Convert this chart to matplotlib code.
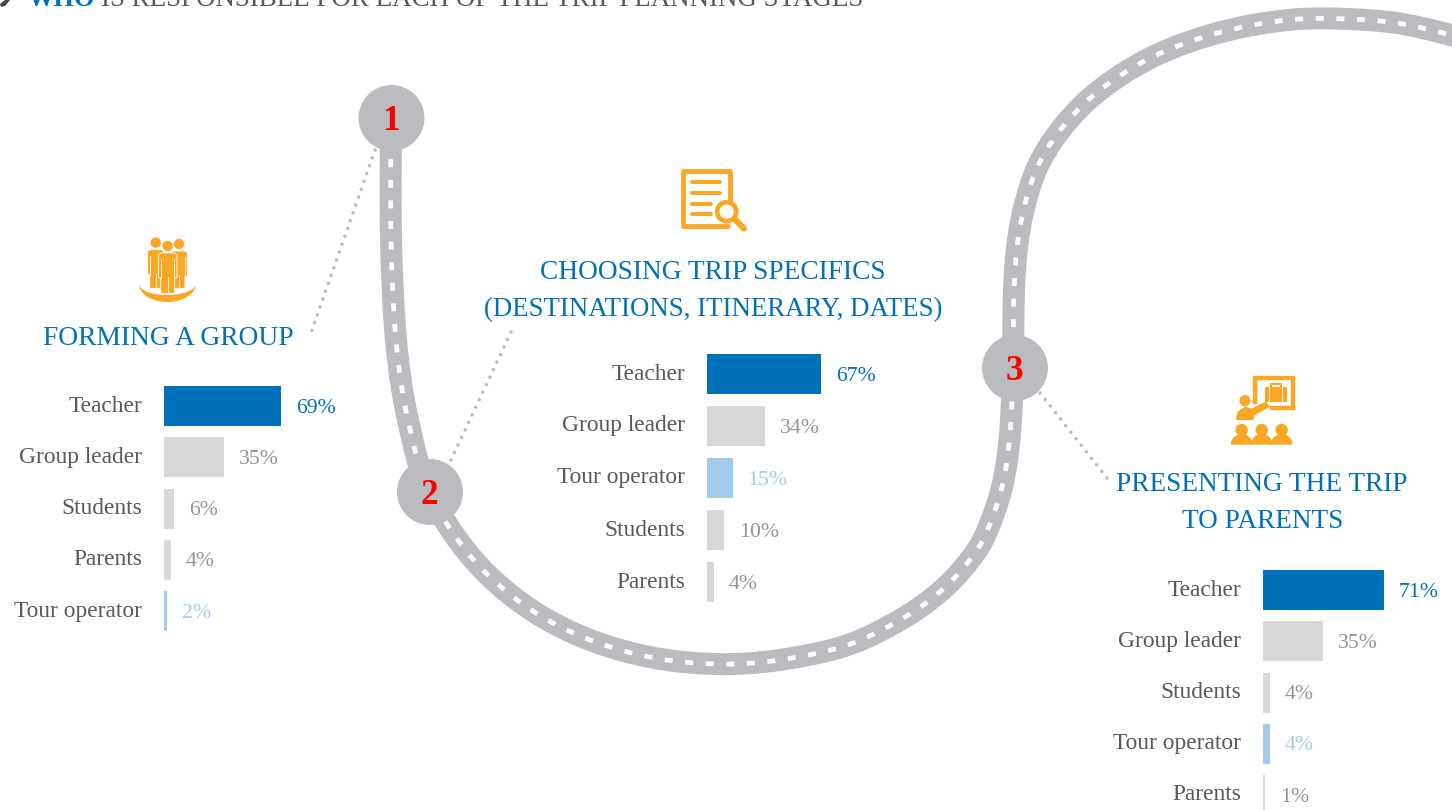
# %%
import numpy as np
import matplotlib
matplotlib.use('Agg')
import matplotlib.pyplot as plt
from matplotlib.path import Path
from matplotlib.patches import PathPatch, Circle, Polygon, Wedge
from matplotlib.transforms import ScaledTranslation

# %%
# Values
group_labels = ['Teacher', 'Group leader', 'Students', 'Parents', 'Tour operator']
group_values = [69, 35, 6, 4, 2]
specifics_labels = ['Teacher', 'Group leader', 'Tour operator', 'Students', 'Parents']
specifics_values = [67, 34, 15, 10, 4]
present_labels = ['Teacher', 'Group leader', 'Students', 'Tour operator', 'Parents']
present_values = [71, 35, 4, 4, 1]

BLUE = '#0070BA'
LIGHT = '#A3CBEB'
BAR_GREY = '#D8D8D8'
PCT_GREY = '#929497'
TEXT = '#58595B'
ROAD = '#BBBCBF'
ORANGE = '#FBA726'
SERIF = 'Liberation Serif'
W, H = 1452, 810

plt.rcParams['lines.scale_dashes'] = False
plt.rcParams['font.family'] = SERIF
fig = plt.figure(figsize=(W / 100, H / 100), dpi=100, facecolor='white')

# %%
# Background layer in pixel coordinates: road, stops, icons, headings
bg = fig.add_axes([0, 0, 1, 1])
bg.set_xlim(0, W)
bg.set_ylim(H, 0)
bg.axis('off')

road_pts = np.array([
    (391, 118), (391, 238), (396, 340), (408, 420), (431, 496), (482, 569),
    (553, 623), (640, 655), (735, 664), (831, 650), (893, 624), (942, 590),
    (977, 550), (994, 513), (1005, 473), (1011, 420), (1013, 350), (1014, 290),
    (1017, 248), (1024, 208), (1037, 168), (1058, 133), (1088, 100), (1124, 73),
    (1163, 52), (1207, 36), (1253, 25), (1300, 19), (1348, 19), (1397, 23),
    (1443, 33), (1480, 44)], dtype=float)


def smooth_path(pts):
    # catmull-rom through the points, written as bezier pieces
    verts = [pts[0]]
    codes = [Path.MOVETO]
    for i in range(len(pts) - 1):
        p0 = pts[max(i - 1, 0)]
        p1 = pts[i]
        p2 = pts[i + 1]
        p3 = pts[min(i + 2, len(pts) - 1)]
        verts += [p1 + (p2 - p0) / 6, p2 - (p3 - p1) / 6, p2]
        codes += [Path.CURVE4] * 3
    return Path(verts, codes)


px = 0.72  # points per pixel at dpi 100
road = smooth_path(road_pts)
bg.add_patch(PathPatch(road, fc='none', ec=ROAD, lw=22 * px, capstyle='butt', zorder=1))
bg.add_patch(PathPatch(road, fc='none', ec='white', lw=4.8 * px, capstyle='butt',
                       linestyle=(0, (8 * px, 12.6 * px)), zorder=2))

# dotted leader lines
for (x0, y0), (x1, y1) in [((375, 150), (311, 333)), ((511, 332), (450, 462)),
                           ((1040, 393), (1107, 478))]:
    bg.plot([x0, x1], [y0, y1], color=ROAD, lw=3.6 * px, zorder=1,
            linestyle=(0, (0.01, 8.3 * px)), dash_capstyle='round')

# numbered stops
for n, (cx, cy) in enumerate([(391.5, 118), (430, 492), (1015, 368)], start=1):
    bg.add_patch(Circle((cx, cy), 33, fc=ROAD, ec='none', zorder=3))
    bg.text(cx - 0.5, cy + 4, str(n), color='red', fontsize=25.5, fontweight='bold',
            ha='center', va='center', zorder=4)

# title, cut by the top edge in the reference
bg.text(28, 6, 'WHO', color=BLUE, fontsize=19, fontweight='bold', va='baseline')
bg.text(101, 6, 'IS RESPONSIBLE FOR EACH OF THE TRIP PLANNING STAGES', color=TEXT,
        fontsize=19.45, va='baseline')
bg.add_patch(Polygon([(0, 4), (5, 0), (10, 0), (5, 6), (1, 7)], fc='#444444', ec='none'))

# headings
head_kw = dict(color=BLUE, ha='center', va='baseline')
bg.text(168, 345, 'FORMING A GROUP', fontsize=19.8, **head_kw)
bg.text(713, 279, 'CHOOSING TRIP SPECIFICS', fontsize=19.75, **head_kw)
bg.text(713, 316, '(DESTINATIONS, ITINERARY, DATES)', fontsize=19.3, **head_kw)
bg.text(1262, 491, 'PRESENTING THE TRIP', fontsize=19.6, **head_kw)
bg.text(1263, 528, 'TO PARENTS', fontsize=19.6, **head_kw)


# %%
# Icons
def people_icon(ox, oy):
    def z(x, y):
        return ox + x / 3, oy + y / 3

    def person(cx, head_y, zo, half, leg_end):
        # torso + arms + legs, white strokes split the limbs
        top = head_y + 21
        body = [(cx - half, top + 6), (cx - half + 7, top), (cx + half - 7, top),
                (cx + half, top + 6), (cx + half, top + 75), (cx + half - 7, top + 75),
                (cx + half - 7, leg_end), (cx - half + 7, leg_end),
                (cx - half + 7, top + 75), (cx - half, top + 75)]
        bg.add_patch(Polygon([z(*p) for p in body], fc=ORANGE, ec='white', lw=0.6, zorder=zo))
        bg.add_patch(Circle(z(cx, head_y), 5.2, fc=ORANGE, ec='none', zorder=zo))
        for dx, y0, y1 in [(0, top + 72, leg_end), (-half + 8, top + 18, top + 75),
                           (half - 8, top + 18, top + 75)]:
            bg.plot(*zip(z(cx + dx, y0), z(cx + dx, y1)), color='white', lw=0.6, zorder=zo)

    person(107, 38, 5, 25, 175)
    person(177, 42, 5, 25, 175)
    person(143, 48, 6, 28, 190)
    # crescent ring under the group
    t = np.linspace(0, np.pi, 60)
    cx, cy = z(142, 162)
    outer = np.c_[cx + 28.5 * np.cos(t), cy + 18 * np.sin(t)]
    inner = np.c_[cx + 28.5 * np.cos(t[::-1]), cy + 11 * np.sin(t[::-1])]
    bg.add_patch(Polygon(np.vstack([outer, inner]), fc=ORANGE, ec='none', zorder=4))


def doc_icon(ox, oy):
    def z(pts):
        return [ox + p[0] / 3 for p in pts], [oy + p[1] / 3 for p in pts]

    kw = dict(color=ORANGE, solid_capstyle='round', solid_joinstyle='round', zorder=5)
    bg.plot(*z([(180, 125), (180, 33), (40, 33), (40, 197), (175, 197)]), lw=4.8 * px, **kw)
    for x1, y in [(150, 67), (150, 98), (122, 132), (122, 163)]:
        bg.plot(*z([(65, y), (x1, y)]), lw=4 * px, **kw)
    bg.add_patch(Circle((ox + 170 / 3, oy + 155 / 3), 9.5, fc='white', ec=ORANGE, lw=4.7 * px, zorder=6))
    bg.plot(*z([(192, 175), (222, 206)]), lw=6 * px, **kw)


def present_icon(ox, oy):
    def z(pts):
        return [(ox + p[0] / 3, oy + p[1] / 3) for p in pts]

    frame = z([(105, 95), (105, 25), (220, 25), (220, 115), (155, 115)])
    bg.plot(*zip(*frame), color=ORANGE, lw=4.4 * px, solid_joinstyle='miter', zorder=5)
    case = z([(135, 52), (200, 52), (200, 97), (135, 97)])
    bg.add_patch(Polygon(case, fc=ORANGE, ec='none', zorder=5))
    bg.plot(*zip(*z([(152, 52), (152, 43), (183, 43), (183, 52)])), color=ORANGE, lw=1.5, zorder=5)
    for x in (148, 187):
        bg.plot(*zip(*z([(x, 52), (x, 97)])), color='white', lw=0.6, zorder=6)
    bg.add_patch(Circle(z([(75, 92)])[0], 5.6, fc=ORANGE, ec='none', zorder=5))
    body = z([(48, 150), (52, 125), (75, 110), (95, 116), (138, 94), (150, 110), (102, 137), (102, 150)])
    bg.add_patch(Polygon(body, fc=ORANGE, ec='none', zorder=5))
    for x in (65, 125, 185):
        (hx, hy), (bx, by) = z([(x, 180), (x, 224)])
        bg.add_patch(Circle((hx, hy), 6.2, fc=ORANGE, ec='none', zorder=5))
        bg.add_patch(Wedge((bx, by), 10.8, 180, 360, fc=ORANGE, ec='none', zorder=5))


people_icon(120, 230)
doc_icon(670, 160)
present_icon(1220, 370)


# %%
# One small axes per bar panel
def bar_panel(labels, values, left, first_center, step):
    height = step * len(values)
    top = first_center - step / 2
    ax = fig.add_axes([left / W, 1 - (top + height) / H, 170 / W, height / H])
    ax.patch.set_visible(False)
    pos = np.arange(len(values))
    colors = []
    text_colors = []
    for lab in labels:
        if lab == 'Teacher':
            colors.append(BLUE)
            text_colors.append(BLUE)
        elif lab == 'Tour operator':
            colors.append(LIGHT)
            text_colors.append(LIGHT)
        else:
            colors.append(BAR_GREY)
            text_colors.append(PCT_GREY)
    ax.barh(pos, values, height=40 / step, color=colors)
    ax.set_xlim(0, 100)
    ax.set_ylim(len(values) - 0.5, -0.5)
    ax.set_yticks(pos, labels, color=TEXT, fontsize=16.8)
    ax.tick_params(axis='y', length=0, pad=15.8)
    ax.set_xticks([])
    for lbl in ax.get_yticklabels():
        lbl.set_transform(lbl.get_transform() + ScaledTranslation(0, 2.5 / 100, fig.dpi_scale_trans))
    for s in ax.spines.values():
        s.set_visible(False)
    for p, v, c in zip(pos, values, text_colors):
        ax.annotate(f'{v}%', (v, p), xytext=(15 * px, -1.5), textcoords='offset points',
                    color=c, fontsize=15.7, va='center', ha='left', annotation_clip=False)
    return ax


bar_panel(group_labels, group_values, 164, 406, 51.25)
bar_panel(specifics_labels, specifics_values, 707, 374, 52)
bar_panel(present_labels, present_values, 1263, 590, 51.25)

fig.savefig('out.png', dpi=100)
